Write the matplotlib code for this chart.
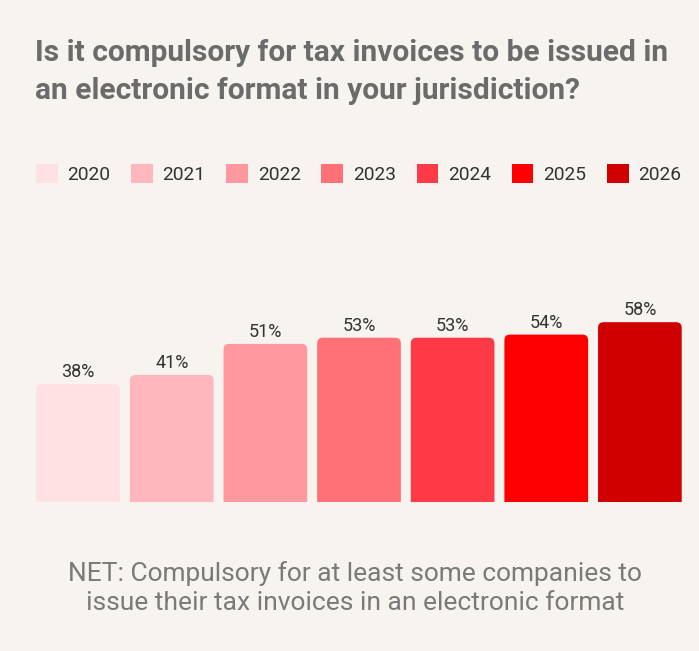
import matplotlib.pyplot as plt
from matplotlib.patches import FancyBboxPatch, Patch

plt.rcParams['font.family'] = ['Roboto', 'DejaVu Sans']

years = ['2020', '2021', '2022', '2023', '2024', '2025', '2026']
values = [38, 41, 51, 53, 53, 54, 58]
colors = ['#FFE0E3', '#FFB6BC', '#FF999F', '#FF7077', '#FF3A47', '#FF0000', '#D10000']

bg = '#F7F3EE'
fig = plt.figure(figsize=(6.99, 6.51), dpi=100, facecolor=bg)
ax = fig.add_axes([36/699, 1 - 502/651, 646/699, 217/651])
ax.set_facecolor(bg)

width = 0.894
bars = ax.bar(range(len(values)), values, width=width, color=colors)
# swap plain bars for ones with rounded top corners
for b, c, v in zip(bars, colors, values):
    b.set_visible(False)
    p = FancyBboxPatch((b.get_x(), -5), b.get_width(), b.get_height() + 5,
                       boxstyle='round,pad=0,rounding_size=0.06',
                       mutation_aspect=30, facecolor=c, edgecolor='none')
    ax.add_patch(p)
    ax.annotate(f'{v}%', (b.get_x() + b.get_width() / 2, v),
                xytext=(0, 12), textcoords='offset pixels',
                ha='center', va='center', fontsize=13, color='#333333')

ax.set_xlim(-0.45, 6.45)
ax.set_ylim(0, 70)
ax.axis('off')

fig.text(35/699, 1 - 72/651,
         'Is it compulsory for tax invoices to be issued in\nan electronic format in your jurisdiction?',
         ha='left', va='center', fontsize=21.5, fontweight='bold', color='#6B6B6B',
         linespacing=1.42)

handles = [Patch(facecolor=c, edgecolor='none') for c in colors]
fig.legend(handles, years, loc='center', bbox_to_anchor=(0.513, 1 - 174/651),
           ncol=7, frameon=False, fontsize=13.8, handlelength=1.14,
           handleheight=1.14, handletextpad=0.5, columnspacing=1.08,
           labelcolor='#333333')

fig.text(0.508, 1 - 588/651,
         'NET: Compulsory for at least some companies to\nissue their tax invoices in an electronic format',
         ha='center', va='center', fontsize=19, color='#7A7A7A', linespacing=1.3)

fig.savefig('out.png', dpi=100, facecolor=bg)
